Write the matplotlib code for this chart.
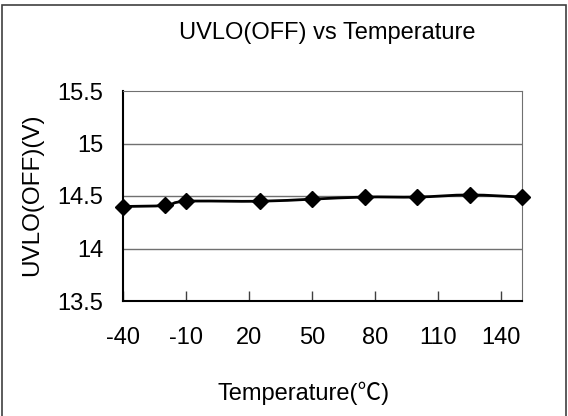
import numpy as np
import matplotlib
matplotlib.use("Agg")
import matplotlib.pyplot as plt
from matplotlib.path import Path
from matplotlib.patches import PathPatch, Rectangle

# data
temps = [-40, -20, -10, 25, 50, 75, 100, 125, 150]
uvlo_off = [14.40, 14.41, 14.45, 14.45, 14.47, 14.49, 14.49, 14.51, 14.49]
x_ticks = [-40, -10, 20, 50, 80, 110, 140]
y_ticks = [13.5, 14, 14.5, 15, 15.5]
y_tick_labels = ["13.5", "14", "14.5", "15", "15.5"]

plt.rcParams['font.family'] = ['Liberation Sans', 'Noto Sans CJK TC', 'DejaVu Sans']
plt.rcParams['axes.unicode_minus'] = False

fig = plt.figure(figsize=(5.68, 4.16), dpi=100)
ax = fig.add_axes([123/568, 1-301/416, (522-123)/568, (301-91)/416])

# smoothed line like Excel's "smoothed line" (Catmull-Rom as cubic bezier)
pts = np.column_stack([temps, uvlo_off])
verts = [pts[0]]
codes = [Path.MOVETO]
n = len(pts)
for i in range(n - 1):
	p0 = pts[max(i - 1, 0)]
	p1 = pts[i]
	p2 = pts[i + 1]
	p3 = pts[min(i + 2, n - 1)]
	verts += [p1 + (p2 - p0) / 6, p2 - (p3 - p1) / 6, p2]
	codes += [Path.CURVE4] * 3
ax.add_patch(PathPatch(Path(verts, codes), facecolor='none', edgecolor='black', lw=2, zorder=3))
ax.plot(temps, uvlo_off, linestyle='none', marker='D', ms=8, color='black', zorder=4, clip_on=False)

ax.set_xlim(-40, 150)
ax.set_ylim(13.5, 15.5)
ax.set_xticks(x_ticks)
ax.set_yticks(y_ticks)
ax.set_yticklabels(y_tick_labels)
for y in y_ticks[1:-1]:
	ax.axhline(y, color='#707070', lw=1, zorder=1)

ax.tick_params(axis='x', direction='in', length=7, width=1, color='#404040', pad=19, labelsize=17)
ax.tick_params(axis='y', length=0, pad=14, labelsize=17)
ax.spines['left'].set_linewidth(1.5)
ax.spines['bottom'].set_linewidth(1.5)
ax.spines['top'].set_color('#707070')
ax.spines['right'].set_color('#707070')

fig.text(0.576, 1 - 33/416, "UVLO(OFF) vs Temperature", ha='center', va='center', fontsize=17)
fig.text(0.534, 1 - 393/416, "Temperature(℃)", ha='center', va='center', fontsize=17)
fig.text(32/568, 1 - 195/416, "UVLO(OFF)(V)", ha='center', va='center', rotation=90, fontsize=17.5)

# outer chart frame
fig.patches.append(Rectangle((2/568, -0.05), 564/568, 1.05 - 5/416, transform=fig.transFigure,
	fill=False, edgecolor='#404040', lw=1.2))

fig.savefig("out.png", dpi=100)
